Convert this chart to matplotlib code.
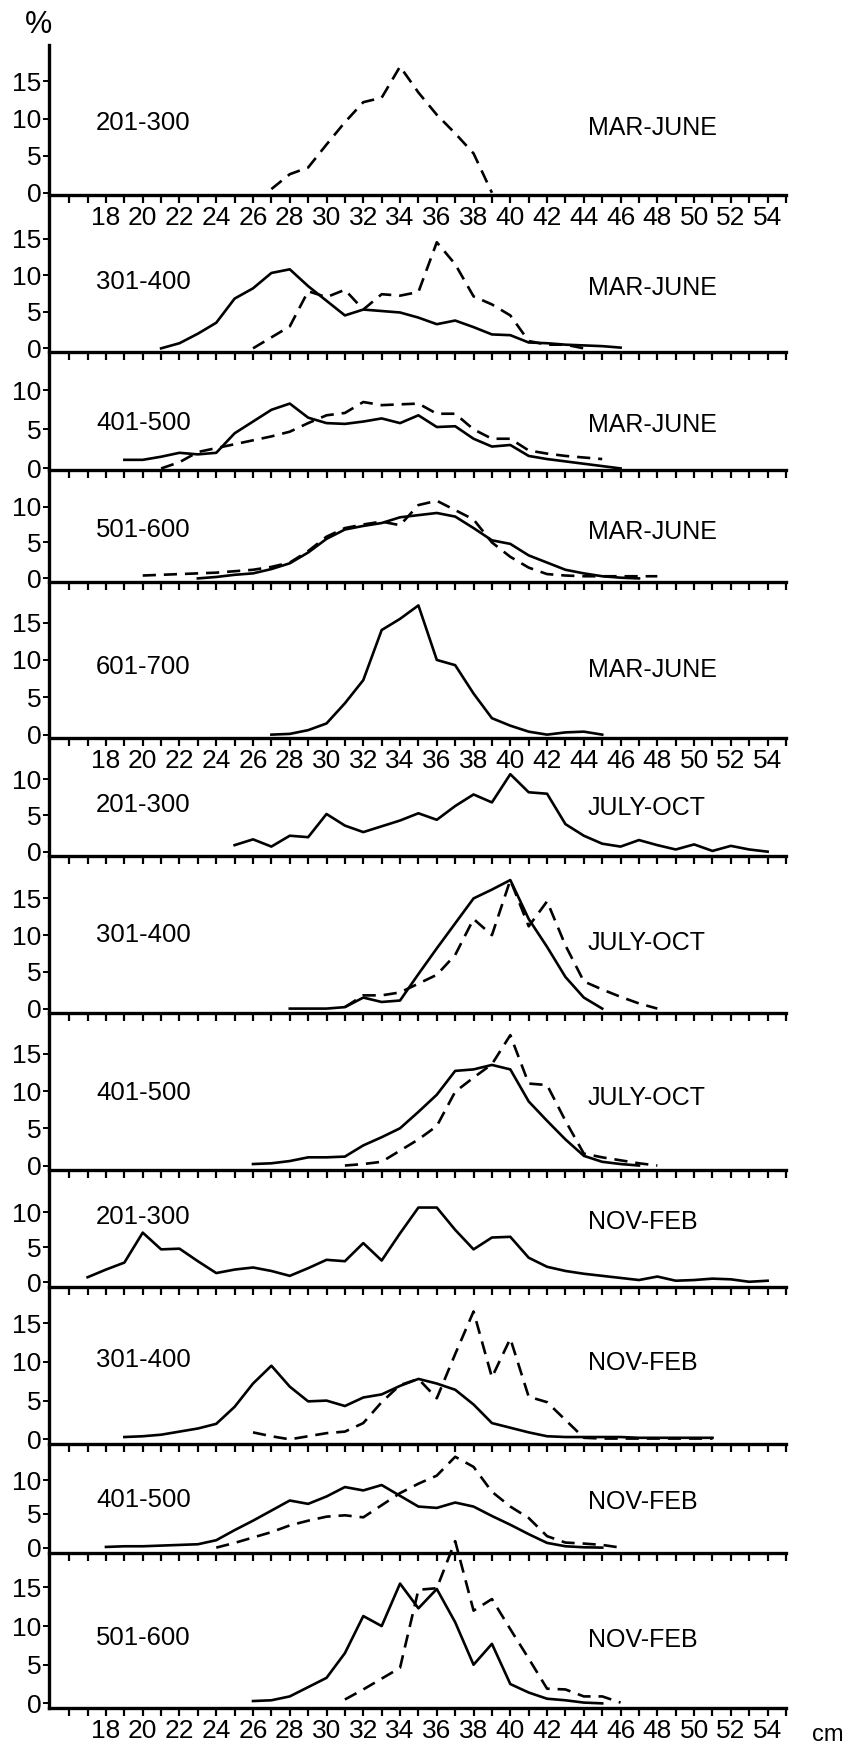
import matplotlib
matplotlib.use('Agg')
import matplotlib.pyplot as plt
from matplotlib.lines import Line2D

plt.rcParams['font.family'] = ['Liberation Sans Narrow', 'Liberation Sans', 'DejaVu Sans']

# length classes (cm) and % frequencies
# panel 1: 201-300, MAR-JUNE
p1_dash_x0, p1_dash = 27, [0.5, 2.5, 3.4, 6.5, 9.5, 12.2, 12.8, 17, 13.5, 10.5, 8, 5.3, 0]
# panel 2: 301-400, MAR-JUNE
p2_solid_x0, p2_solid = 21, [0, 0.7, 2, 3.5, 6.8, 8.2, 10.3, 10.8, 8.5, 6.5, 4.5, 5.3, 5.1, 4.9,
                             4.2, 3.3, 3.8, 2.9, 1.9, 1.8, 0.8, 0.7, 0.5, 0.4, 0.3, 0.1]
p2_dash_x0, p2_dash = 26, [0, 1.5, 3, 7.8, 7, 8, 5.3, 7.4, 7.2, 7.7, 14.5, 11.5, 7.1, 6, 4.5,
                           1, 0.5, 0.5, 0]
# panel 3: 401-500, MAR-JUNE
p3_solid_x0, p3_solid = 19, [1.1, 1.1, 1.5, 2, 1.8, 2, 4.5, 6, 7.5, 8.3, 6.5, 5.8, 5.7, 6, 6.4,
                             5.8, 6.8, 5.3, 5.4, 3.8, 2.8, 3, 1.6, 1.2, 0.9, 0.6, 0.3, 0]
p3_dash_x0, p3_dash = 21, [0, 0.8, 2.1, 2.6, 3.1, 3.6, 4.1, 4.7, 5.8, 6.8, 7.1, 8.5, 8.1, 8.2,
                           8.3, 7, 7, 5, 3.8, 3.8, 2.3, 1.9, 1.6, 1.4, 1.2]
# panel 4: 501-600, MAR-JUNE
p4_solid_x0, p4_solid = 23, [0, 0.2, 0.5, 0.7, 1.3, 2.1, 3.6, 5.5, 6.8, 7.3, 7.7, 8.5, 8.8, 9.1,
                             8.6, 7, 5.3, 4.8, 3.2, 2.2, 1.2, 0.7, 0.3, 0.1, 0]
p4_dash_x0, p4_dash = 20, [0.4, 0.5, 0.6, 0.7, 0.8, 1, 1.2, 1.6, 2.2, 3.8, 5.8, 7, 7.5, 7.9,
                           7.4, 10.2, 10.8, 9.5, 8.2, 5, 3, 1.5, 0.6, 0.4, 0.3, 0.3, 0.3, 0.3, 0.3]
# panel 5: 601-700, MAR-JUNE
p5_solid_x0, p5_solid = 27, [0, 0.1, 0.6, 1.5, 4.2, 7.3, 14, 15.5, 17.3, 10, 9.3, 5.5, 2.2, 1.2,
                             0.4, 0, 0.3, 0.4, 0]
# panel 6: 201-300, JULY-OCT
p6_solid_x0, p6_solid = 25, [0.9, 1.7, 0.7, 2.2, 2.0, 5.2, 3.6, 2.7, 3.5, 4.3, 5.3, 4.4, 6.3, 7.9,
                             6.8, 10.7, 8.2, 8.0, 3.8, 2.2, 1.1, 0.7, 1.6, 0.9, 0.3, 1.0, 0.1,
                             0.8, 0.3, 0]
# panel 7: 301-400, JULY-OCT
p7_solid_x0, p7_solid = 28, [0, 0, 0, 0.2, 1.5, 0.9, 1.1, 4.7, 8.2, 11.6, 15, 16.2, 17.5, 12.2,
                             8.4, 4.3, 1.5, 0]
p7_dash_x0, p7_dash = 31, [0.2, 1.8, 1.8, 2.2, 3.4, 4.6, 7.3, 12.2, 10, 17.5, 11.2, 14.6, 8.6,
                           3.7, 2.6, 1.6, 0.7, 0]
# panel 8: 401-500, JULY-OCT
p8_solid_x0, p8_solid = 26, [0.2, 0.3, 0.6, 1.1, 1.1, 1.2, 2.7, 3.8, 5, 7.2, 9.5, 12.7, 12.9,
                             13.5, 12.9, 8.6, 6, 3.5, 1.3, 0.5, 0.2, 0]
p8_dash_x0, p8_dash = 31, [0, 0.2, 0.5, 2, 3.5, 5.3, 9.9, 11.8, 13.6, 17.5, 11, 10.8, 6, 1.6,
                           1.1, 0.7, 0.3, 0]
# panel 9: 201-300, NOV-FEB
p9_solid_x0, p9_solid = 17, [0.7, 1.8, 2.8, 7.1, 4.7, 4.8, 3.0, 1.3, 1.8, 2.1, 1.6, 0.9, 2.0, 3.2,
                             3.0, 5.6, 3.1, 7.0, 10.7, 10.7, 7.5, 4.7, 6.4, 6.5, 3.5, 2.2, 1.6,
                             1.2, 0.9, 0.6, 0.3, 0.8, 0.2, 0.3, 0.5, 0.4, 0.05, 0.2]
# panel 10: 301-400, NOV-FEB
p10_solid_x0, p10_solid = 19, [0.3, 0.4, 0.6, 1.0, 1.4, 2.0, 4.2, 7.2, 9.5, 6.8, 4.9, 5.0, 4.3,
                               5.4, 5.8, 6.9, 7.8, 7.2, 6.4, 4.5, 2.1, 1.5, 0.9, 0.4, 0.3, 0.3,
                               0.3, 0.3, 0.2, 0.2, 0.2, 0.2, 0.2]
p10_dash_x0, p10_dash = 26, [0.9, 0.4, 0, 0.4, 0.8, 1.0, 2.1, 4.8, 7.0, 7.8, 5.3, 11, 16.5, 8,
                             13, 5.5, 4.8, 2.5, 0.2, 0.1, 0.1, 0.1, 0.1, 0.1, 0.1, 0.1]
# panel 11: 401-500, NOV-FEB
p11_solid_x0, p11_solid = 18, [0.1, 0.2, 0.2, 0.3, 0.4, 0.5, 1.1, 2.6, 4.0, 5.5, 7.0, 6.5, 7.6,
                               9.0, 8.5, 9.3, 7.7, 6.1, 5.9, 6.7, 6.1, 4.7, 3.4, 2.0, 0.7, 0.2,
                               0.05, 0]
p11_dash_x0, p11_dash = 24, [0, 0.7, 1.5, 2.3, 3.3, 4.0, 4.6, 4.8, 4.5, 6.3, 8.1, 9.5, 10.7,
                             13.5, 12, 8.3, 6.1, 4.4, 1.7, 0.75, 0.6, 0.4, 0]
# panel 12: 501-600, NOV-FEB
p12_solid_x0, p12_solid = 26, [0.3, 0.4, 0.9, 2.1, 3.3, 6.5, 11.3, 10.0, 15.5, 12.3, 14.8, 10.5,
                               5.0, 7.7, 2.5, 1.4, 0.6, 0.4, 0.1, 0]
p12_dash_x0, p12_dash = 31, [0.5, 1.8, 3.2, 4.6, 14.7, 14.9, 21, 12, 13.5, 9.6, 5.8, 1.9, 1.8,
                             0.9, 0.9, 0.1]

range_labels = ['201-300', '301-400', '401-500', '501-600', '601-700',
                '201-300', '301-400', '401-500',
                '201-300', '301-400', '401-500', '501-600']
season_labels = ['MAR-JUNE'] * 5 + ['JULY-OCT'] * 3 + ['NOV-FEB'] * 4
x_tick_labels = list(range(18, 55, 2))

solid = [None, (p2_solid_x0, p2_solid), (p3_solid_x0, p3_solid), (p4_solid_x0, p4_solid),
         (p5_solid_x0, p5_solid), (p6_solid_x0, p6_solid), (p7_solid_x0, p7_solid),
         (p8_solid_x0, p8_solid), (p9_solid_x0, p9_solid), (p10_solid_x0, p10_solid),
         (p11_solid_x0, p11_solid), (p12_solid_x0, p12_solid)]
dashed = [(p1_dash_x0, p1_dash), (p2_dash_x0, p2_dash), (p3_dash_x0, p3_dash),
          (p4_dash_x0, p4_dash), None, None, (p7_dash_x0, p7_dash), (p8_dash_x0, p8_dash),
          None, (p10_dash_x0, p10_dash), (p11_dash_x0, p11_dash), (p12_dash_x0, p12_dash)]

# layout, in pixels of the 848x1754 picture
W, H = 848, 1754
AX_L, AX_R = 49, 786
X_LO, X_HI = 14.9, 14.9 + (AX_R - AX_L) / 18.4
# (top px, baseline px, ymin, ymax, top tick, label y px, season y px)
layout = [
    (45, 195, -0.3, 19.9, 15, 123, 128),
    (232, 352, -0.5, 15.9, 15, 282, 288),
    (352, 470, -0.2, 14.9, 10, 423, 425),
    (472, 582, -0.5, 14.8, 10, 530, 532),
    (583, 738, -0.45, 20.3, 15, 667, 670),
    (772, 856, -0.6, 11.0, 10, 805, 808),
    (858, 1013, -0.6, 20.5, 15, 935, 943),
    (1015, 1170, -0.6, 20.2, 15, 1093, 1098),
    (1172, 1287, -0.7, 15.8, 10, 1217, 1222),
    (1289, 1444, -0.6, 19.4, 15, 1360, 1363),
    (1446, 1553, -0.8, 15.1, 10, 1500, 1502),
    (1555, 1708, -0.6, 19.2, 15, 1638, 1640),
]
labelled = (0, 4, 11)

fig = plt.figure(figsize=(W / 100, H / 100), dpi=100)
fig.patch.set_facecolor('white')


def fx(px):
    return px / W


def fy(py):
    return 1 - py / H


for i, (top, bot, ymin, ymax, ytop, ly, sy) in enumerate(layout):
    ax = fig.add_axes([fx(AX_L), fy(bot), fx(AX_R - AX_L), (bot - top) / H])
    ax.patch.set_alpha(0)
    ax.set_xlim(X_LO, X_HI)
    ax.set_ylim(ymin, ymax)
    for s in ['top', 'right', 'left']:
        ax.spines[s].set_visible(False)
    ax.spines['bottom'].set_linewidth(2.4)

    ticks = list(range(16, 56))
    ax.set_xticks(ticks)
    ax.set_xticklabels([str(t) if t in x_tick_labels else '' for t in ticks])
    ax.tick_params(axis='x', direction='out', length=6, width=1.6, labelsize=19, pad=2,
                   labelbottom=(i in labelled))
    ax.set_yticks(list(range(0, ytop + 1, 5)))
    ax.tick_params(axis='y', direction='out', length=4, width=1.4, labelsize=19, pad=1.5)

    if solid[i] is not None:
        x0, vals = solid[i]
        ax.plot(range(x0, x0 + len(vals)), vals, color='black', lw=1.9, clip_on=False)
    if dashed[i] is not None:
        x0, vals = dashed[i]
        ax.plot(range(x0, x0 + len(vals)), vals, color='black', lw=1.9,
                linestyle=(0, (5, 3)), clip_on=False)

    fig.text(fx(96), fy(ly), range_labels[i], fontsize=18.5, va='center', ha='left')
    fig.text(fx(588), fy(sy), season_labels[i], fontsize=18, va='center', ha='left')

# one continuous y-axis through all panels
fig.add_artist(Line2D([fx(AX_L), fx(AX_L)], [fy(45), fy(1708)], transform=fig.transFigure,
                      color='black', lw=2.4))
fig.text(fx(38), fy(25), '%', fontsize=22, va='center', ha='center')
fig.text(fx(828), fy(1735), 'cm', fontsize=17, va='center', ha='center')

fig.savefig('out.png', dpi=100)
